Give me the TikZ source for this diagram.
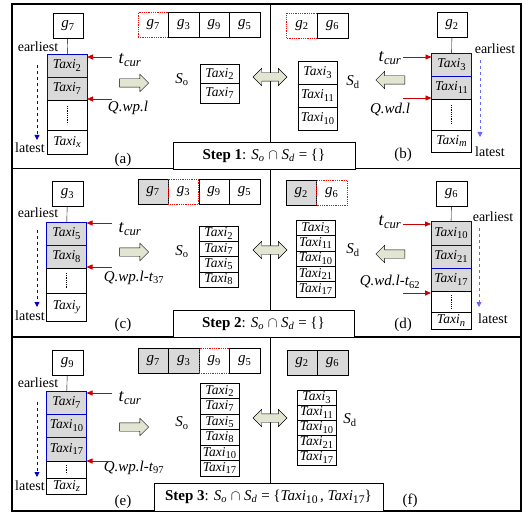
\documentclass[tikz,border=0pt]{standalone}
\usepackage{fontspec}
\setmainfont{Liberation Serif}
\usetikzlibrary{positioning,shapes.arrows,arrows.meta}
\definecolor{pale}{RGB}{226,229,210}
\newcommand{\low}[1]{\raisebox{-0.35ex}{\scalebox{0.78}{#1}}}
\newcommand{\tx}[1]{\textit{Taxi}\low{#1}}
\newcommand{\gid}[1]{\textit{g}\textsubscript{#1}}
\newcommand{\tcur}{\textit{t}\textsubscript{\textit{cur}}}
\newcommand{\So}{\textit{S}\textsubscript{o}}
\newcommand{\Sd}{\textit{S}\textsubscript{d}}

\begin{document}
\begin{tikzpicture}[x=1pt, y=1pt,
  cell/.style = {draw, rectangle, minimum width=40pt, minimum height=23pt, inner sep=0pt, outer sep=0pt, font=\fontsize{13.5}{14}\selectfont},
  hit/.style = {cell, fill=black!15, draw=blue!80!black, thick},
  item/.style = {draw, rectangle, minimum width=39pt, inner sep=0pt, outer sep=0pt, font=\fontsize{13.5}{14}\selectfont},
  gbox/.style = {draw, rectangle, minimum width=30.5pt, minimum height=25pt, inner sep=0pt, outer sep=0pt, font=\fontsize{15}{16}\selectfont},
  gdone/.style = {gbox, fill=black!15},
  gnow/.style = {gbox, draw=red, densely dotted, thick},
  push/.style = {single arrow, draw, fill=pale, minimum height=29pt, inner sep=4pt, single arrow head extend=4.5pt},
  swap/.style = {double arrow, draw, fill=pale, minimum height=34pt, inner sep=4pt, double arrow head extend=4.5pt},
  ptr/.style = {-{Triangle[length=6pt,width=5pt]}, red!80!black, thick},
  flow/.style = {-{Triangle[length=5pt,width=5pt]}, blue!80!black, dashed, thick},
  tag/.style = {font=\fontsize{14}{15}\selectfont},
  lab/.style = {font=\fontsize{15}{16}\selectfont},
  big/.style = {font=\fontsize{18}{20}\selectfont},
  stepbox/.style = {draw, fill=white, thick, inner sep=0pt, font=\fontsize{15}{16}\selectfont}
]
\useasboundingbox (0,0) rectangle (526,-513);

% frame
\draw[line width=1.2pt] (12,-4) rectangle (521,-511);
\draw[line width=1.2pt] (12,-168.5) -- (521,-168.5);
\draw[line width=1.2pt] (12,-337) -- (521,-337);
\draw (270,-4) -- (270,-511);

% (a)
\node[gbox] (ga) at (68,-26) {\gid{7}};
\node[hit] (a1) at (67,-65.5) {\tx{2}};
\node[hit] (a2) [below=0pt of a1] {\tx{7}};
\node[cell, minimum height=30pt] (a3) [below=0pt of a2] {};
\node[cell, minimum height=24pt] (a4) [below=0pt of a3] {\tx{\textit{x}}};
\draw (ga) -- (a1);
\draw[densely dotted, thick] ([yshift=-6pt]a3.north) -- ([yshift=6pt]a3.south);
\node[tag] (ea) at (38,-47) {earliest};
\node[tag] (la) at (30,-148) {latest};
\coordinate (fa1) at (37,-65);
\coordinate (fa2) at (37,-140);
\draw[flow] (fa1) -- (fa2);
\node[big] (ta) at (130,-60) {\tcur};
\node[lab] (qa) at (128,-108) {\textit{Q.wp.l}};
\coordinate (pa1) at (112,-57);
\coordinate (pa2) at (112,-99);
\draw[ptr] (pa1) -- (pa1 -| a1.east);
\draw[ptr] (pa2) -- (pa2 -| a2.east);
\node[push] (ra) at (132,-83) {};
\node[lab] (soa) at (182,-80) {\So};
\node[item, minimum height=19.5pt] (oa1) at (219.5,-73.75) {\tx{2}};
\node[item, minimum height=19.5pt] (oa2) [below=0pt of oa1] {\tx{7}};
\node[gnow] (ga7) at (153.25,-25) {\gid{7}};
\node[gbox] (ga3) [right=0pt of ga7] {\gid{3}};
\node[gbox] (ga9) [right=0pt of ga3] {\gid{9}};
\node[gbox] (ga5) [right=0pt of ga9] {\gid{5}};
\node[lab] (capa) at (123,-160) {(a)};

% (b)
\node[gbox] (gb) at (452,-25) {\gid{2}};
\node[hit] (b1) at (451.5,-64.5) {\tx{3}};
\node[hit] (b2) [below=0pt of b1] {\tx{11}};
\node[cell, minimum height=31pt] (b3) [below=0pt of b2] {};
\node[cell, minimum height=22pt] (b4) [below=0pt of b3] {\tx{\textit{m}}};
\draw (gb) -- (b1);
\draw[densely dotted, thick] ([yshift=-6pt]b3.north) -- ([yshift=6pt]b3.south);
\node[tag] (eb) at (495,-49) {earliest};
\node[tag] (lb) at (490,-152) {latest};
\coordinate (fb1) at (480,-60);
\coordinate (fb2) at (480,-137);
\draw[flow, blue!60] (fb1) -- (fb2);
\node[big] (tb) at (390,-58) {\tcur};
\node[lab] (qb) at (390,-110) {\textit{Q.wd.l}};
\coordinate (pb1) at (403,-57);
\coordinate (pb2) at (403,-98);
\draw[ptr] (pb1) -- (pb1 -| b1.west);
\draw[ptr] (pb2) -- (pb2 -| b2.west);
\node[push, shape border rotate=180] (rb) at (392.5,-80) {};
\node[lab] (sdb) at (353,-82) {\Sd};
\node[item, minimum height=23pt] (db1) at (317.5,-72.5) {\tx{3}};
\node[item, minimum height=23pt] (db2) [below=0pt of db1] {\tx{11}};
\node[item, minimum height=23pt] (db3) [below=0pt of db2] {\tx{10}};
\node[gnow] (gb2) at (302,-25.5) {\gid{2}};
\node[gbox] (gb6) [right=0pt of gb2] {\gid{6}};
\node[lab] (capb) at (403,-155) {(b)};

\node[swap] (xa) at (270,-77) {};
\node[stepbox, minimum width=182pt, minimum height=27pt] (s1) at (264,-155.5)
  {\textbf{Step 1}: \textit{S}\textsubscript{\textit{o}} $\cap$ \textit{S}\textsubscript{\textit{d}} = \{\}};

% (c)
\node[gbox] (gc) at (67.5,-194) {\gid{3}};
\node[hit] (c1) at (66.5,-233.5) {\tx{5}};
\node[hit] (c2) [below=0pt of c1] {\tx{8}};
\node[cell, minimum height=25pt] (c3) [below=0pt of c2] {};
\node[cell, minimum height=28pt] (c4) [below=0pt of c3] {\tx{\textit{y}}};
\draw (gc) -- (c1);
\draw[densely dotted, thick] ([yshift=-5pt]c3.north) -- ([yshift=5pt]c3.south);
\node[tag] (ec) at (38,-213) {earliest};
\node[tag] (lc) at (30,-316) {latest};
\coordinate (fc1) at (37,-230);
\coordinate (fc2) at (37,-307);
\draw[flow] (fc1) -- (fc2);
\node[big] (tc) at (130,-229) {\tcur};
\node[lab] (qc) at (134,-278) {\textit{Q.wp.l-t}\textsubscript{37}};
\coordinate (pc1) at (112,-223);
\coordinate (pc2) at (112,-267);
\draw[ptr] (pc1) -- (pc1 -| c1.east);
\draw[ptr] (pc2) -- (pc2 -| c2.east);
\node[push] (rc) at (132,-252) {};
\node[lab] (soc) at (182,-252) {\So};
\node[item, minimum height=15.25pt] (oc1) at (218.5,-233.6) {\tx{2}};
\node[item, minimum height=15.25pt] (oc2) [below=0pt of oc1] {\tx{7}};
\node[item, minimum height=15.25pt] (oc3) [below=0pt of oc2] {\tx{5}};
\node[item, minimum height=15.25pt] (oc4) [below=0pt of oc3] {\tx{8}};
\node[gdone] (gc7) at (153.1,-191.5) {\gid{7}};
\node[gnow] (gc3) [right=0pt of gc7] {\gid{3}};
\node[gbox] (gc9) [right=0pt of gc3] {\gid{9}};
\node[gbox] (gc5) [right=0pt of gc9] {\gid{5}};
\node[lab] (capc) at (123,-325) {(c)};

% (d)
\node[gbox] (gd) at (451.5,-193.5) {\gid{6}};
\node[hit, minimum height=24pt] (d1) at (451,-233) {\tx{10}};
\node[hit] (d2) [below=0pt of d1] {\tx{21}};
\node[hit] (d3) [below=0pt of d2] {\tx{17}};
\node[cell, minimum height=21pt] (d4) [below=0pt of d3] {};
\node[cell, minimum height=17pt] (d5) [below=0pt of d4] {\tx{\textit{n}}};
\draw (gd) -- (d1);
\draw[densely dotted, thick] ([yshift=-4pt]d4.north) -- ([yshift=4pt]d4.south);
\node[tag] (ed) at (493,-217) {earliest};
\node[tag] (ld) at (493,-319) {latest};
\coordinate (fd1) at (479,-228);
\coordinate (fd2) at (479,-307);
\draw[flow, blue!60] (fd1) -- (fd2);
\node[big] (td) at (390,-222) {\tcur};
\node[lab] (qd) at (390,-282) {\textit{Q.wd.l-t}\textsubscript{62}};
\coordinate (pd1) at (403,-224);
\coordinate (pd2) at (403,-293);
\draw[ptr] (pd1) -- (pd1 -| d1.west);
\draw[ptr] (pd2) -- (pd2 -| d4.west);
\node[push, shape border rotate=180] (rd) at (392.5,-254) {};
\node[lab] (sdd) at (353,-250) {\Sd};
\node[item, minimum height=15.4pt] (dd1) at (315.5,-227.7) {\tx{3}};
\node[item, minimum height=15.4pt] (dd2) [below=0pt of dd1] {\tx{11}};
\node[item, minimum height=15.4pt] (dd3) [below=0pt of dd2] {\tx{10}};
\node[item, minimum height=15.4pt] (dd4) [below=0pt of dd3] {\tx{21}};
\node[item, minimum height=15.4pt] (dd5) [below=0pt of dd4] {\tx{17}};
\node[gdone] (gd2) at (301.25,-193) {\gid{2}};
\node[gnow] (gd6) [right=0pt of gd2] {\gid{6}};
\node[lab] (capd) at (403,-325) {(d)};

\node[swap] (xc) at (270,-250) {};
\node[stepbox, minimum width=181pt, minimum height=27pt] (s2) at (263.5,-323.5)
  {\textbf{Step 2}: \textit{S}\textsubscript{\textit{o}} $\cap$ \textit{S}\textsubscript{\textit{d}} = \{\}};

% (e)
\node[gbox] (ge) at (67.5,-363) {\gid{9}};
\node[hit] (e1) at (66.5,-402.5) {\tx{7}};
\node[hit] (e2) [below=0pt of e1] {\tx{10}};
\node[hit, minimum height=24pt] (e3) [below=0pt of e2] {\tx{17}};
\node[cell, minimum height=17pt] (e4) [below=0pt of e3] {};
\node[cell, minimum height=16pt] (e5) [below=0pt of e4] {\tx{\textit{z}}};
\draw (ge) -- (e1);
\draw[densely dotted, thick] ([yshift=-4pt]e4.north) -- ([yshift=4pt]e4.south);
\node[tag] (ee) at (38,-383) {earliest};
\node[tag] (le) at (30,-486) {latest};
\coordinate (fe1) at (37,-402);
\coordinate (fe2) at (37,-477);
\draw[flow] (fe1) -- (fe2);
\node[big] (te) at (130,-398) {\tcur};
\node[lab] (qe) at (134,-468) {\textit{Q.wp.l-t}\textsubscript{97}};
\coordinate (pe1) at (112,-393);
\coordinate (pe2) at (112,-461);
\draw[ptr] (pe1) -- (pe1 -| e1.east);
\draw[ptr] (pe2) -- (pe2 -| e3.east);
\node[push] (re) at (132,-427) {};
\node[lab] (soe) at (182,-423) {\So};
\node[item, minimum height=15.5pt] (oe1) at (219.5,-390.75) {\tx{2}};
\node[item, minimum height=15.5pt] (oe2) [below=0pt of oe1] {\tx{7}};
\node[item, minimum height=15.5pt] (oe3) [below=0pt of oe2] {\tx{5}};
\node[item, minimum height=15.5pt] (oe4) [below=0pt of oe3] {\tx{8}};
\node[item, minimum height=15.5pt] (oe5) [below=0pt of oe4] {\tx{10}};
\node[item, minimum height=15.5pt] (oe6) [below=0pt of oe5] {\tx{17}};
\node[gdone] (ge7) at (153.25,-361) {\gid{7}};
\node[gdone] (ge3) [right=0pt of ge7] {\gid{3}};
\node[gnow] (ge9) [right=0pt of ge3] {\gid{9}};
\node[gbox] (ge5) [right=0pt of ge9] {\gid{5}};
\node[lab] (cape) at (123,-502) {(e)};

% (f)
\node[lab] (sdf) at (350,-420) {\Sd};
\node[item, minimum height=15pt] (df1) at (316.5,-397.5) {\tx{3}};
\node[item, minimum height=15pt] (df2) [below=0pt of df1] {\tx{11}};
\node[item, minimum height=15pt] (df3) [below=0pt of df2] {\tx{10}};
\node[item, minimum height=15pt] (df4) [below=0pt of df3] {\tx{21}};
\node[item, minimum height=15pt] (df5) [below=0pt of df4] {\tx{17}};
\node[gdone] (gf2) at (302,-362.5) {\gid{2}};
\node[gdone] (gf6) [right=0pt of gf2] {\gid{6}};
\node[lab] (capf) at (410,-501) {(f)};

\node[swap] (xe) at (270,-418) {};
\node[stepbox, minimum width=229pt, minimum height=28pt] (s3) at (268.5,-497)
  {\textbf{Step 3}: \textit{S}\textsubscript{\textit{o}} $\cap$ \textit{S}\textsubscript{\textit{d}} = \{\tx{10}\,, \tx{17}\}};
\end{tikzpicture}
\end{document}
